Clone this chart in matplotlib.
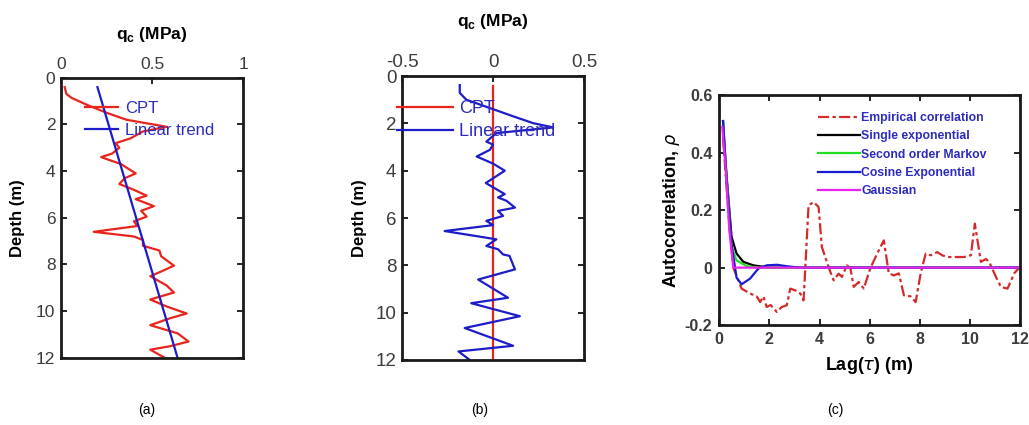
import matplotlib
matplotlib.use("Agg")
import matplotlib.pyplot as plt
import numpy as np

plt.rcParams['font.family'] = ['Liberation Sans', 'DejaVu Sans']
plt.rcParams['mathtext.fontset'] = 'dejavusans'

# ---------------- data ----------------
# (a) CPT profile and linear trend
cpt_depth = [0.4, 0.7, 0.87, 1.15, 1.5, 1.8, 1.95, 2.1, 2.3, 2.6, 2.8, 3.0, 3.25, 3.4,
             3.7, 4.1, 4.3, 4.55, 4.8, 5.05, 5.2, 5.5, 5.7, 5.95, 6.15, 6.35, 6.6, 6.8,
             6.95, 7.2, 7.4, 7.65, 8.05, 8.3, 8.5, 8.9, 9.2, 9.5, 9.8, 10.1, 10.3, 10.6,
             10.95, 11.3, 11.5, 11.65, 12.0]
cpt_qc = [0.02, 0.03, 0.06, 0.14, 0.25, 0.36, 0.47, 0.58, 0.45, 0.38, 0.30, 0.32, 0.28, 0.22,
          0.33, 0.41, 0.35, 0.32, 0.40, 0.47, 0.41, 0.51, 0.44, 0.47, 0.40, 0.42, 0.18, 0.40,
          0.45, 0.45, 0.54, 0.55, 0.62, 0.55, 0.49, 0.58, 0.62, 0.49, 0.58, 0.69, 0.60, 0.49,
          0.64, 0.70, 0.60, 0.49, 0.57]
trend_depth = [0.4, 12.0]
trend_qc = [0.20, 0.64]

# (b) detrended residual
res_depth = [0.38, 0.71, 1.0, 1.35, 1.7, 1.99, 2.17, 2.41, 2.77, 2.9, 3.12, 3.4, 3.7, 4.0,
             4.52, 4.99, 5.13, 5.27, 5.56, 5.7, 5.91, 6.12, 6.3, 6.55, 6.9, 7.18, 7.32, 7.54,
             7.6, 8.17, 8.6, 9.37, 9.6, 10.15, 10.65, 11.4, 11.64, 12.0]
res_qc = [-0.183, -0.183, -0.147, -0.018, 0.11, 0.22, 0.33, 0.018, -0.037, 0.0, -0.018, -0.09,
          0.0, 0.064, -0.04, 0.064, 0.027, 0.073, 0.12, 0.027, 0.055, -0.037, 0.0, -0.266,
          0.018, -0.037, 0.027, 0.055, 0.09, 0.12, -0.082, 0.082, -0.12, 0.147, -0.156, 0.11,
          -0.19, -0.128]
zero_depth = [0.4, 12.0]
zero_qc = [0.0, 0.0]

# (c) autocorrelation
emp_lag = [0.15, 0.4, 0.56, 0.89, 1.23, 1.49, 1.63, 1.76, 1.89, 2.05, 2.29, 2.49, 2.69, 2.83,
           3.03, 3.23, 3.36, 3.43, 3.56, 3.76, 3.96, 4.09, 4.29, 4.43, 4.56, 4.76, 4.89, 5.09,
           5.23, 5.36, 5.56, 5.76, 6.03, 6.36, 6.56, 6.76, 6.96, 7.16, 7.36, 7.63, 7.83, 8.03,
           8.23, 8.43, 8.69, 8.89, 9.09, 9.43, 9.76, 10.03, 10.19, 10.43, 10.63, 10.76, 11.03,
           11.23, 11.49, 11.76, 11.96]
emp_rho = [0.45, 0.15, 0.0, -0.073, -0.09, -0.10, -0.12, -0.10, -0.137, -0.13, -0.154, -0.137,
           -0.131, -0.073, -0.079, -0.09, -0.114, 0.0, 0.217, 0.228, 0.211, 0.072, 0.02, -0.015,
           -0.044, -0.021, -0.032, 0.008, -0.003, -0.067, -0.05, -0.073, 0.0, 0.06, 0.095,
           -0.02, -0.027, -0.02, -0.096, -0.10, -0.12, -0.02, 0.049, 0.043, 0.054, 0.043, 0.037,
           0.037, 0.037, 0.043, 0.153, 0.02, 0.03, 0.02, -0.032, -0.067, -0.073, -0.02, 0.0]

sexp_lag = [0.15, 0.25, 0.36, 0.49, 0.69, 0.96, 1.36, 2.0, 12.0]
sexp_rho = [0.51, 0.36, 0.246, 0.107, 0.049, 0.02, 0.008, 0.0, 0.0]

som_lag = [0.15, 0.25, 0.36, 0.49, 0.69, 1.1, 1.6, 12.0]
som_rho = [0.51, 0.37, 0.24, 0.072, 0.025, 0.005, 0.0, 0.0]

cexp_lag = [0.15, 0.3, 0.49, 0.69, 0.89, 1.23, 1.56, 1.89, 2.3, 2.69, 3.2, 12.0]
cexp_rho = [0.51, 0.30, 0.08, -0.035, -0.058, -0.038, -0.003, 0.008, 0.01, 0.005, 0.0, 0.0]

gauss_lag = [0.12, 0.25, 0.4, 0.56, 12.0]
gauss_rho = [0.49, 0.35, 0.13, 0.0, 0.0]

# ---------------- figure ----------------
fig = plt.figure(figsize=(10.29, 4.25), dpi=100)

red = '#e8241c'
blue = '#1c1cc8'
txtblue = '#2b2bbf'
tickgray = '#3c3c3c'


def style_box(ax, lw=2.0):
    for s in ax.spines.values():
        s.set_linewidth(lw)
        s.set_color('#1a1a1a')
    ax.tick_params(direction='in', length=4, width=1.2, top=True, right=True,
                   labelcolor=tickgray)


# ---- (a) ----
axa = fig.add_axes([0.0593, 0.158, 0.177, 0.659])
axa.plot(cpt_qc, cpt_depth, color=red, lw=1.6, label='CPT')
axa.plot(trend_qc, trend_depth, color=blue, lw=1.6, label='Linear trend')
axa.set_xlim(0, 1)
axa.set_ylim(12, 0)
axa.set_xticks([0, 0.5, 1])
axa.set_xticklabels(['0', '0.5', '1'])
axa.set_yticks([0, 2, 4, 6, 8, 10, 12])
axa.xaxis.tick_top()
axa.xaxis.set_label_position('top')
style_box(axa)
axa.tick_params(labelsize=12.5, labeltop=True, labelbottom=False, pad=4)
axa.set_xlabel(r'q$_\mathregular{c}$ (MPa)', fontsize=12.5, fontweight='bold', labelpad=13)
axa.set_ylabel('Depth (m)', fontsize=12, fontweight='bold', labelpad=8)
leg = axa.legend(loc='upper left', bbox_to_anchor=(85 / 1029, 1 - 101 / 425),
                 bbox_transform=fig.transFigure, frameon=False, fontsize=12,
                 handlelength=2.0, handletextpad=0.4, labelspacing=0.4,
                 borderpad=0, borderaxespad=0)
for t in leg.get_texts():
    t.set_color(txtblue)

# ---- (b) ----
axb = fig.add_axes([0.3907, 0.153, 0.177, 0.668])
axb.plot(zero_qc, zero_depth, color=red, lw=1.6, label='CPT')
axb.plot(res_qc, res_depth, color=blue, lw=1.6, label='Linear trend')
axb.set_xlim(-0.5, 0.5)
axb.set_ylim(12, 0)
axb.set_xticks([-0.5, 0, 0.5])
axb.set_xticklabels(['-0.5', '0', '0.5'])
axb.set_yticks([0, 2, 4, 6, 8, 10, 12])
axb.xaxis.tick_top()
axb.xaxis.set_label_position('top')
style_box(axb)
axb.tick_params(labelsize=13.5, labeltop=True, labelbottom=False, pad=4)
axb.set_xlabel(r'q$_\mathregular{c}$ (MPa)', fontsize=12.5, fontweight='bold', labelpad=20)
axb.set_ylabel('Depth (m)', fontsize=12, fontweight='bold', labelpad=6)
legb = axb.legend(loc='upper left', bbox_to_anchor=(397 / 1029, 1 - 100 / 425),
                  bbox_transform=fig.transFigure, frameon=False, fontsize=13,
                  handlelength=3.1, handletextpad=0.35, labelspacing=0.35,
                  borderpad=0, borderaxespad=0)
for t in legb.get_texts():
    t.set_color(txtblue)

# ---- (c) ----
axc = fig.add_axes([0.699, 0.235, 0.2925, 0.541])
axc.plot(emp_lag, emp_rho, color='#d42a2a', lw=1.6, ls=(0, (5, 1.5, 1.5, 1.5)),
         label='Empirical correlation')
axc.plot(sexp_lag, sexp_rho, color='black', lw=1.6, label='Single exponential')
axc.plot(som_lag, som_rho, color='#22dd22', lw=1.6, label='Second order Markov')
axc.plot(cexp_lag, cexp_rho, color='#1a1ad0', lw=1.6, label='Cosine Exponential')
axc.plot(gauss_lag, gauss_rho, color='#ee22ee', lw=1.6, label='Gaussian')
axc.set_xlim(0, 12)
axc.set_ylim(-0.2, 0.6)
axc.set_xticks([0, 2, 4, 6, 8, 10, 12])
axc.set_yticks([-0.2, 0, 0.2, 0.4, 0.6])
axc.set_yticklabels(['-0.2', '0', '0.2', '0.4', '0.6'])
style_box(axc)
axc.tick_params(labelsize=11.5, pad=5)
for lab in axc.get_xticklabels() + axc.get_yticklabels():
    lab.set_fontweight('bold')
axc.set_xlabel(r'Lag($\tau$) (m)', fontsize=13, fontweight='bold', labelpad=6)
axc.set_ylabel(r'Autocorrelation, $\rho$', fontsize=12.8, fontweight='bold', labelpad=2)
legc = axc.legend(loc='upper left', bbox_to_anchor=(818 / 1029, 1 - 112 / 425),
                  bbox_transform=fig.transFigure, frameon=False,
                  prop={'size': 8.8, 'weight': 'bold'},
                  handlelength=3.4, handletextpad=0.15, labelspacing=0.52,
                  borderpad=0, borderaxespad=0)
for t in legc.get_texts():
    t.set_color(txtblue)

fig.text(147 / 1029, 1 - 410 / 425, '(a)', ha='center', va='center', fontsize=10)
fig.text(480 / 1029, 1 - 410 / 425, '(b)', ha='center', va='center', fontsize=10)
fig.text(835 / 1029, 1 - 410 / 425, '(c)', ha='center', va='center', fontsize=10)

fig.savefig('out.png', dpi=100)
